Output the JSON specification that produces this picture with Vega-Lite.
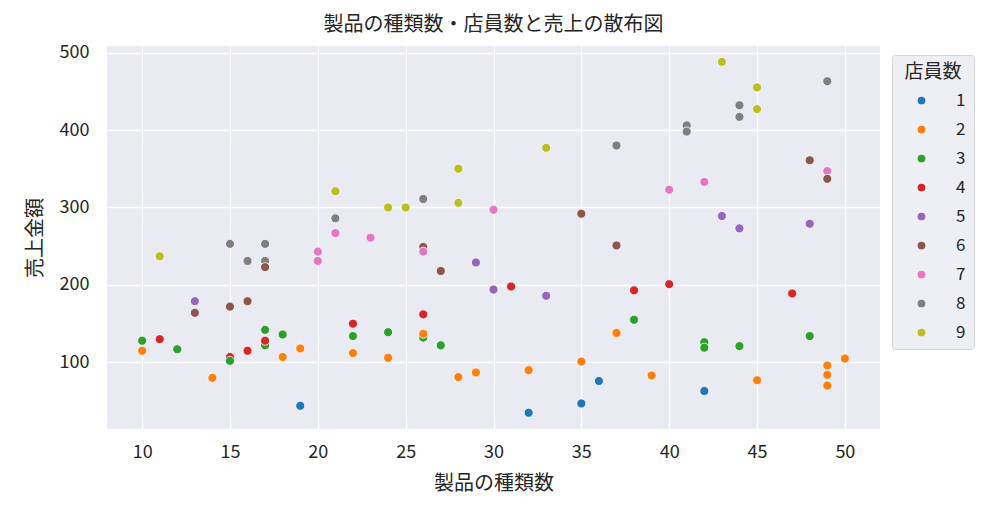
{
  "$schema": "https://vega.github.io/schema/vega-lite/v6.json",
  "description": "製品の種類数・店員数と売上の散布図",
  "autosize": {"type": "none"},
  "padding": {"left": 107, "top": 46, "right": 106, "bottom": 77},
  "width": 773,
  "height": 383,
  "background": "white",
  "title": {
    "text": "製品の種類数・店員数と売上の散布図",
    "anchor": "middle",
    "fontSize": 20,
    "fontWeight": "normal",
    "color": "#262626",
    "offset": 9
  },
  "data": {
    "values": [
      {"products": 15, "sales": 107, "staff": 4},
      {"products": 49, "sales": 347, "staff": 7},
      {"products": 15, "sales": 253, "staff": 8},
      {"products": 16, "sales": 231, "staff": 8},
      {"products": 17, "sales": 253, "staff": 8},
      {"products": 17, "sales": 231, "staff": 8},
      {"products": 21, "sales": 286, "staff": 8},
      {"products": 26, "sales": 311, "staff": 8},
      {"products": 37, "sales": 380, "staff": 8},
      {"products": 41, "sales": 406, "staff": 8},
      {"products": 41, "sales": 398, "staff": 8},
      {"products": 44, "sales": 432, "staff": 8},
      {"products": 44, "sales": 417, "staff": 8},
      {"products": 49, "sales": 463, "staff": 8},
      {"products": 13, "sales": 164, "staff": 6},
      {"products": 15, "sales": 172, "staff": 6},
      {"products": 16, "sales": 179, "staff": 6},
      {"products": 17, "sales": 223, "staff": 6},
      {"products": 26, "sales": 249, "staff": 6},
      {"products": 27, "sales": 218, "staff": 6},
      {"products": 35, "sales": 292, "staff": 6},
      {"products": 37, "sales": 251, "staff": 6},
      {"products": 48, "sales": 361, "staff": 6},
      {"products": 49, "sales": 337, "staff": 6},
      {"products": 20, "sales": 243, "staff": 7},
      {"products": 20, "sales": 231, "staff": 7},
      {"products": 21, "sales": 267, "staff": 7},
      {"products": 23, "sales": 261, "staff": 7},
      {"products": 26, "sales": 243, "staff": 7},
      {"products": 30, "sales": 297, "staff": 7},
      {"products": 40, "sales": 323, "staff": 7},
      {"products": 42, "sales": 333, "staff": 7},
      {"products": 13, "sales": 179, "staff": 5},
      {"products": 29, "sales": 229, "staff": 5},
      {"products": 30, "sales": 194, "staff": 5},
      {"products": 33, "sales": 186, "staff": 5},
      {"products": 43, "sales": 289, "staff": 5},
      {"products": 44, "sales": 273, "staff": 5},
      {"products": 48, "sales": 279, "staff": 5},
      {"products": 19, "sales": 44, "staff": 1},
      {"products": 32, "sales": 35, "staff": 1},
      {"products": 35, "sales": 47, "staff": 1},
      {"products": 36, "sales": 76, "staff": 1},
      {"products": 42, "sales": 63, "staff": 1},
      {"products": 11, "sales": 237, "staff": 9},
      {"products": 21, "sales": 321, "staff": 9},
      {"products": 24, "sales": 300, "staff": 9},
      {"products": 25, "sales": 300, "staff": 9},
      {"products": 28, "sales": 350, "staff": 9},
      {"products": 28, "sales": 306, "staff": 9},
      {"products": 33, "sales": 377, "staff": 9},
      {"products": 43, "sales": 488, "staff": 9},
      {"products": 45, "sales": 455, "staff": 9},
      {"products": 45, "sales": 427, "staff": 9},
      {"products": 10, "sales": 128, "staff": 3},
      {"products": 12, "sales": 117, "staff": 3},
      {"products": 15, "sales": 102, "staff": 3},
      {"products": 17, "sales": 142, "staff": 3},
      {"products": 17, "sales": 122, "staff": 3},
      {"products": 18, "sales": 136, "staff": 3},
      {"products": 22, "sales": 134, "staff": 3},
      {"products": 24, "sales": 139, "staff": 3},
      {"products": 26, "sales": 132, "staff": 3},
      {"products": 27, "sales": 122, "staff": 3},
      {"products": 38, "sales": 155, "staff": 3},
      {"products": 42, "sales": 126, "staff": 3},
      {"products": 42, "sales": 119, "staff": 3},
      {"products": 44, "sales": 121, "staff": 3},
      {"products": 48, "sales": 134, "staff": 3},
      {"products": 10, "sales": 115, "staff": 2},
      {"products": 14, "sales": 80, "staff": 2},
      {"products": 18, "sales": 107, "staff": 2},
      {"products": 19, "sales": 118, "staff": 2},
      {"products": 22, "sales": 112, "staff": 2},
      {"products": 24, "sales": 106, "staff": 2},
      {"products": 26, "sales": 137, "staff": 2},
      {"products": 28, "sales": 81, "staff": 2},
      {"products": 29, "sales": 87, "staff": 2},
      {"products": 32, "sales": 90, "staff": 2},
      {"products": 35, "sales": 101, "staff": 2},
      {"products": 37, "sales": 138, "staff": 2},
      {"products": 39, "sales": 83, "staff": 2},
      {"products": 45, "sales": 77, "staff": 2},
      {"products": 49, "sales": 96, "staff": 2},
      {"products": 49, "sales": 84, "staff": 2},
      {"products": 49, "sales": 70, "staff": 2},
      {"products": 50, "sales": 105, "staff": 2},
      {"products": 11, "sales": 130, "staff": 4},
      {"products": 16, "sales": 115, "staff": 4},
      {"products": 17, "sales": 128, "staff": 4},
      {"products": 22, "sales": 150, "staff": 4},
      {"products": 26, "sales": 162, "staff": 4},
      {"products": 31, "sales": 198, "staff": 4},
      {"products": 38, "sales": 193, "staff": 4},
      {"products": 40, "sales": 201, "staff": 4},
      {"products": 47, "sales": 189, "staff": 4}
    ]
  },
  "mark": {"type": "point", "filled": true, "shape": "circle", "size": 82, "opacity": 1, "stroke": "white", "strokeWidth": 0.8},
  "encoding": {
    "x": {
      "field": "products",
      "type": "quantitative",
      "title": "製品の種類数",
      "scale": {"domain": [8, 52], "nice": false, "zero": false},
      "axis": {"values": [10, 15, 20, 25, 30, 35, 40, 45, 50], "labelPadding": 14, "titlePadding": 12}
    },
    "y": {
      "field": "sales",
      "type": "quantitative",
      "title": "売上金額",
      "scale": {"domain": [14, 508.5], "nice": false, "zero": false},
      "axis": {"values": [100, 200, 300, 400, 500], "labelPadding": 18, "titlePadding": 14}
    },
    "color": {
      "field": "staff",
      "type": "ordinal",
      "title": "店員数",
      "scale": {
        "domain": [1, 2, 3, 4, 5, 6, 7, 8, 9],
        "range": ["#1f77b4", "#ff7f0e", "#2ca02c", "#d62728", "#9467bd", "#8c564b", "#e377c2", "#7f7f7f", "#bcbd22"]
      },
      "legend": {
        "orient": "none",
        "legendX": 785,
        "legendY": 9,
        "padding": 8,
        "fillColor": "#EEEEF5",
        "strokeColor": "#D5D5D5",
        "cornerRadius": 3,
        "titleFontSize": 19,
        "titleFontWeight": "normal",
        "titleColor": "#262626",
        "titleAnchor": "middle",
        "titlePadding": 10,
        "labelFontSize": 17,
        "labelColor": "#262626",
        "labelOffset": 26,
        "symbolOffset": 13,
        "symbolSize": 60,
        "symbolType": "circle",
        "symbolStrokeWidth": 0,
        "rowPadding": 11
      }
    }
  },
  "config": {
    "font": "Noto Sans CJK JP",
    "view": {"fill": "#EAEAF2", "stroke": null},
    "axis": {
      "domain": false,
      "ticks": false,
      "grid": true,
      "gridColor": "white",
      "gridWidth": 1.3,
      "labelFontSize": 18,
      "labelColor": "#262626",
      "titleFontSize": 20,
      "titleFontWeight": "normal",
      "titleColor": "#262626"
    }
  }
}
